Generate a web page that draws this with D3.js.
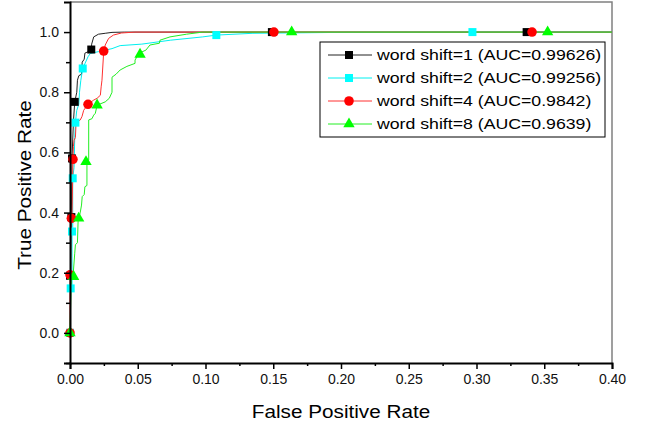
<!DOCTYPE html>
<html>
<head>
<meta charset="utf-8">
<script src="https://cdn.jsdelivr.net/npm/d3@7"></script>
<style>
  body { margin: 0; background: #fff; }
  svg { font-family: "Liberation Sans", Arial, sans-serif; }
</style>
</head>
<body>
<div id="chart"></div>
<script>
// ROC curves, [fpr, tpr] pairs
const shift1Curve = [[0,0],[0.0005,0.19],[0.001,0.385],[0.0015,0.58],[0.0025,0.70],[0.0035,0.768],[0.005,0.80],[0.0055,0.84],[0.0065,0.855],[0.0085,0.86],[0.009,0.90],[0.0105,0.91],[0.011,0.93],[0.0135,0.935],[0.0157,0.942],[0.016,0.96],[0.0175,0.984],[0.021,0.993],[0.026,0.996],[0.031,0.999],[0.04,1],[0.4,1]];
const shift2Curve = [[0,0],[0.0005,0.148],[0.0015,0.16],[0.0015,0.337],[0.002,0.35],[0.002,0.514],[0.003,0.55],[0.0035,0.65],[0.004,0.699],[0.0045,0.72],[0.005,0.74],[0.0065,0.76],[0.007,0.80],[0.008,0.84],[0.0094,0.879],[0.0133,0.918],[0.015,0.929],[0.021,0.935],[0.031,0.945],[0.037,0.955],[0.053,0.96],[0.074,0.973],[0.098,0.984],[0.108,0.99],[0.135,0.996],[0.2,0.999],[0.3,1],[0.4,1]];
const shift4Curve = [[0,0],[0,0.19],[0.0005,0.19],[0.0005,0.38],[0.0015,0.385],[0.0022,0.577],[0.0025,0.62],[0.003,0.64],[0.004,0.65],[0.0045,0.70],[0.0076,0.708],[0.0089,0.72],[0.0101,0.74],[0.0133,0.76],[0.0175,0.774],[0.02,0.78],[0.0224,0.79],[0.023,0.818],[0.0236,0.84],[0.0249,0.937],[0.026,0.957],[0.0285,0.979],[0.032,0.99],[0.038,0.997],[0.048,1],[0.4,1]];
const shift8Curve = [[0,0],[0.0005,0.10],[0.001,0.187],[0.0025,0.204],[0.0035,0.265],[0.004,0.293],[0.0055,0.30],[0.006,0.375],[0.0075,0.399],[0.0085,0.425],[0.009,0.453],[0.0105,0.46],[0.011,0.486],[0.0125,0.49],[0.0125,0.569],[0.0138,0.575],[0.0138,0.708],[0.0162,0.712],[0.0175,0.724],[0.0187,0.73],[0.02,0.757],[0.026,0.768],[0.029,0.78],[0.031,0.80],[0.031,0.85],[0.034,0.86],[0.037,0.874],[0.042,0.886],[0.048,0.896],[0.048,0.907],[0.051,0.93],[0.056,0.94],[0.059,0.957],[0.066,0.963],[0.0664,0.973],[0.0738,0.984],[0.086,0.993],[0.098,1],[0.4,1]];

// marker positions along each curve
const shift1Marks = [[0,0],[0,0.19],[0.001,0.385],[0.0015,0.58],[0.0035,0.768],[0.0157,0.942],[0.149,1],[0.337,1]];
const shift2Marks = [[0,0],[0.0005,0.148],[0.0015,0.337],[0.002,0.514],[0.004,0.699],[0.0094,0.879],[0.108,0.99],[0.297,1]];
const shift4Marks = [[0,0],[0,0.193],[0.001,0.381],[0.0022,0.577],[0.0133,0.76],[0.0249,0.937],[0.1505,1],[0.341,1]];
const shift8Marks = [[0,0],[0.0027,0.187],[0.0064,0.381],[0.0118,0.569],[0.02,0.757],[0.0517,0.926],[0.1636,1],[0.3525,1]];

const seriesLabels = ["word shift=1 (AUC=0.99626)", "word shift=2 (AUC=0.99256)", "word shift=4 (AUC=0.9842)", "word shift=8 (AUC=0.9639)"];
const xTicks = [0, 0.05, 0.1, 0.15, 0.2, 0.25, 0.3, 0.35, 0.4];
const yTicks = [0, 0.2, 0.4, 0.6, 0.8, 1.0];

const width = 649, height = 427;
const margin = {top: 2, right: 37, bottom: 64, left: 70};

const series = [
    {curve: shift1Curve, marks: shift1Marks, line: "#222", fill: "#000", shape: "square"},
    {curve: shift2Curve, marks: shift2Marks, line: "#00f0f0", fill: "#00ffff", shape: "square"},
    {curve: shift4Curve, marks: shift4Marks, line: "#ff3030", fill: "#ff0000", shape: "circle"},
    {curve: shift8Curve, marks: shift8Marks, line: "#22ee22", fill: "#00ff00", shape: "triangle"}
];
series.forEach((s, i) => s.label = seriesLabels[i]);

const svg = d3.select("#chart").append("svg")
    .attr("width", width)
    .attr("height", height);

const x = d3.scaleLinear()
    .domain([0, 0.4])
    .range([margin.left, width - margin.right]);

const y = d3.scaleLinear()
    .domain([-0.1, 1.1])
    .range([height - margin.bottom, margin.top]);

const symbolOf = {
    square: d3.symbol().type(d3.symbolSquare).size(64),
    circle: d3.symbol().type(d3.symbolCircle).size(72),
    triangle: d3.symbol().type(d3.symbolTriangle).size(56)
};

// frame: top and right in grey
svg.append("path")
    .attr("d", `M${x(0)},${y(1.1)}H${x(0.4)}V${y(-0.1)}`)
    .attr("fill", "none")
    .attr("stroke", "#808080")
    .attr("stroke-width", 1.5);

const line = d3.line()
    .x(d => x(d[0]))
    .y(d => y(d[1]));

const plot = svg.append("g");

series.forEach(s => {
    plot.append("path")
        .datum(s.curve)
        .attr("fill", "none")
        .attr("stroke", s.line)
        .attr("stroke-width", 1)
        .attr("d", line);
});

series.forEach(s => {
    plot.append("g")
        .selectAll("path")
        .data(s.marks)
        .enter().append("path")
        .attr("transform", d => `translate(${x(d[0])},${y(d[1])})`)
        .attr("d", symbolOf[s.shape])
        .attr("fill", s.fill);
});

// axes
const xMinor = d3.range(0.025, 0.4, 0.05);
const yMinor = d3.range(-0.1, 1.0, 0.2);

svg.append("g")
    .attr("transform", `translate(0,${y(-0.1)})`)
    .call(d3.axisBottom(x).tickValues(xTicks).tickFormat(d3.format(".2f")).tickSize(6).tickPadding(5));

svg.append("g")
    .attr("transform", `translate(0,${y(-0.1)})`)
    .call(d3.axisBottom(x).tickValues(xMinor).tickFormat("").tickSize(3))
    .select(".domain").remove();

svg.append("g")
    .attr("transform", `translate(${x(0)},0)`)
    .call(d3.axisLeft(y).tickValues(yTicks).tickFormat(d3.format(".1f")).tickSize(6).tickPadding(5));

svg.append("g")
    .attr("transform", `translate(${x(0)},0)`)
    .call(d3.axisLeft(y).tickValues(yMinor).tickFormat("").tickSize(4))
    .select(".domain").remove();

svg.selectAll(".domain")
    .attr("stroke", "#000")
    .attr("stroke-width", 2);

svg.selectAll(".tick line")
    .attr("stroke", "#000")
    .attr("stroke-width", 1.5);

svg.selectAll(".tick text")
    .style("font-size", "14px")
    .attr("fill", "#111");

// axis titles (the picture's text is a little wider than plain Arial)
svg.append("text")
    .attr("transform", `translate(${(x(0) + x(0.4)) / 2},418) scale(1.12,1)`)
    .attr("text-anchor", "middle")
    .style("font-size", "18.5px")
    .text("False Positive Rate");

svg.append("text")
    .attr("transform", `translate(31,185) rotate(-90) scale(1.12,1)`)
    .attr("text-anchor", "middle")
    .style("font-size", "18.5px")
    .text("True Positive Rate");

// legend
const legend = svg.append("g")
    .attr("transform", "translate(320,42)");

legend.append("rect")
    .attr("width", 285)
    .attr("height", 95)
    .attr("fill", "#fff")
    .attr("stroke", "#000")
    .attr("stroke-width", 1);

const row = legend.selectAll("g.row")
    .data(series)
    .enter().append("g")
    .attr("class", "row")
    .attr("transform", (d, i) => `translate(0,${13 + i * 23})`);

row.append("line")
    .attr("x1", 8)
    .attr("x2", 52)
    .attr("stroke", d => d.line)
    .attr("stroke-width", 1);

row.append("path")
    .attr("transform", "translate(29,0)")
    .attr("d", d => symbolOf[d.shape]())
    .attr("fill", d => d.fill);

row.append("text")
    .attr("transform", "translate(57,0) scale(1.18,1)")
    .attr("dy", "0.35em")
    .style("font-size", "15px")
    .text(d => d.label);
</script>
</body>
</html>
